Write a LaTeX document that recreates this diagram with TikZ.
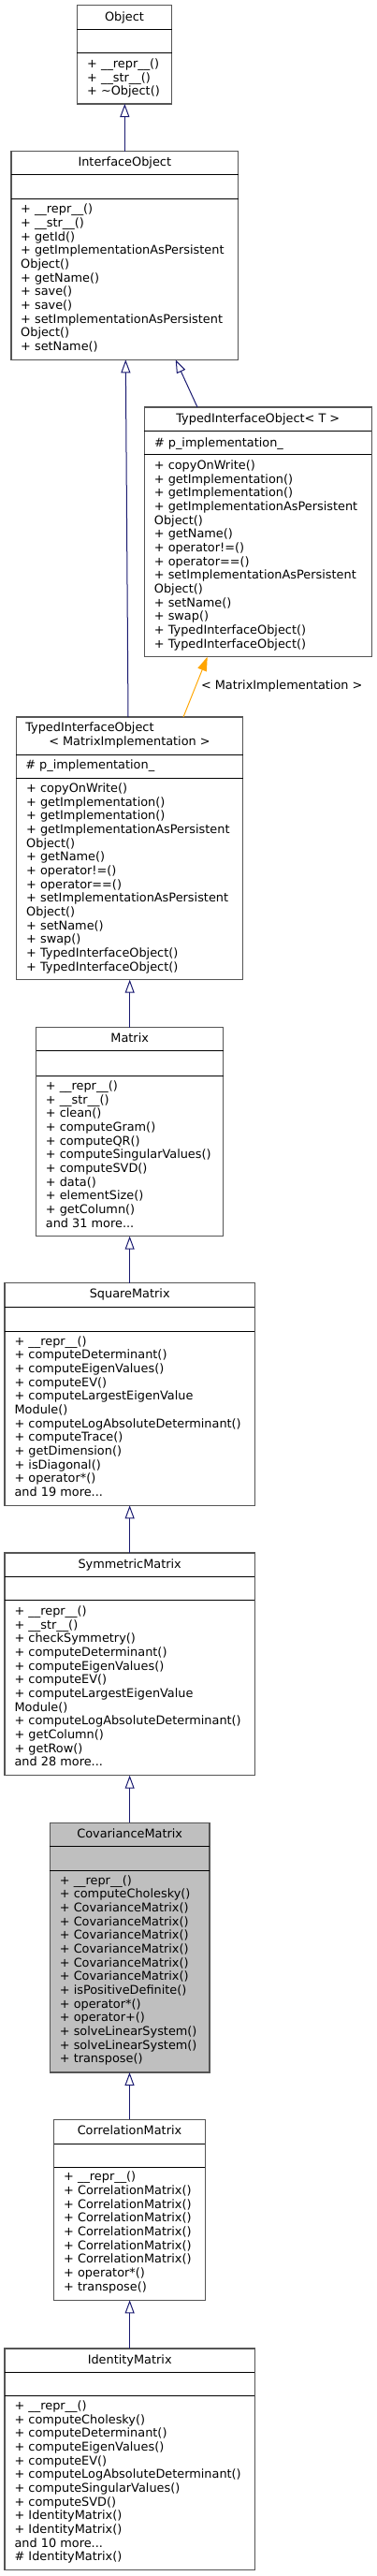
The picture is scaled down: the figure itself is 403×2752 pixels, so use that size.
\documentclass[tikz,border=0pt]{standalone}
\usepackage{fontspec}
\setmainfont{DejaVu Sans}
\usetikzlibrary{arrows.meta}
\definecolor{edgeblue}{HTML}{191970}
\definecolor{edgeorange}{HTML}{FFA500}
\definecolor{boxgray}{HTML}{555555}
\definecolor{mainfill}{HTML}{BFBFBF}
\newcommand\tdots{...}
\tikzset{
  cls/.style={draw=boxgray, line width=1.3pt, inner sep=0pt, outer sep=0pt, anchor=north west},
  divline/.style={draw=black, line width=1pt},
  txt/.style={inner sep=0pt, outer sep=0pt, anchor=base west, font=\fontsize{12.87}{14.67}\selectfont},
  ttl/.style={inner sep=0pt, outer sep=0pt, anchor=base, font=\fontsize{12.87}{14.67}\selectfont},
  inh/.style={draw=edgeblue, line width=1pt, -{Triangle[open, length=14pt, width=10pt, line width=1pt]}},
  tmpl/.style={draw=edgeorange, line width=1pt, -{Triangle[length=15pt, width=10pt]}},
}
\newcommand\classbox[8]{%
  \node[cls, fill=#8, minimum width={(#4-#2)*1pt}, minimum height={(#5-#3)*1pt}] (#1) at (#2,#3) {};
  \draw[divline] (#2,#6) -- (#4,#6);
  \draw[divline] (#2,#7) -- (#4,#7);
}
\newcommand\methodlist[4]{%
  \foreach \t [count=\i from 0] in {#4} {
    \node[txt] (#1-\i) at (#2, {#3+\i*14.67}) {\t};
  }
}
\begin{document}
\begin{tikzpicture}[x=1pt, y=-1pt]
\useasboundingbox (0,0) rectangle (403,2752);

% Object
\classbox{obj}{82.3}{5.7}{183.7}{111}{31.3}{56.7}{white}
\node[ttl] (obj-title) at (133,22) {Object};
\methodlist{obj}{93.2}{72.6}{+ \_\_repr\_\_(), + \_\_str\_\_(), + \textasciitilde Object()}

% InterfaceObject
\classbox{ifo}{12}{161.7}{254.7}{384.3}{186.7}{212.3}{white}
\node[ttl] (ifo-title) at (133.3,177.7) {InterfaceObject};
\methodlist{ifo}{22.2}{227.8}{+ \_\_repr\_\_(), + \_\_str\_\_(), + getId(), + getImplementationAsPersistent, Object(), + getName(), + save(), + save(), + setImplementationAsPersistent, Object(), + setName()}

% TypedInterfaceObject< T >
\classbox{tit}{154.3}{435}{397.3}{701.7}{460}{485.7}{white}
\node[ttl] (tit-title) at (275.8,451) {TypedInterfaceObject< T >};
\node[txt] (tit-attr) at (165,477.1) {\# p\_implementation\_};
\methodlist{tit}{164.9}{501.5}{+ copyOnWrite(), + getImplementation(), + getImplementation(), + getImplementationAsPersistent, Object(), + getName(), + operator!=(), + operator==(), + setImplementationAsPersistent, Object(), + setName(), + swap(), + TypedInterfaceObject(), + TypedInterfaceObject()}

% TypedInterfaceObject< MatrixImplementation >
\classbox{tmi}{17.3}{766}{259.7}{1046.7}{806}{831}{white}
\node[txt] (tmi-title1) at (27.3,781.5) {TypedInterfaceObject};
\node[ttl] (tmi-title2) at (138.5,796) {< MatrixImplementation >};
\node[txt] (tmi-attr) at (27.3,821.5) {\# p\_implementation\_};
\methodlist{tmi}{28.2}{846.5}{+ copyOnWrite(), + getImplementation(), + getImplementation(), + getImplementationAsPersistent, Object(), + getName(), + operator!=(), + operator==(), + setImplementationAsPersistent, Object(), + setName(), + swap(), + TypedInterfaceObject(), + TypedInterfaceObject()}

% Matrix
\classbox{mat}{38.7}{1097.7}{238.7}{1320.7}{1122.7}{1149.3}{white}
\node[ttl] (mat-title) at (138.7,1113.7) {Matrix};
\methodlist{mat}{48.9}{1164.5}{+ \_\_repr\_\_(), + \_\_str\_\_(), + clean(), + computeGram(), + computeQR(), + computeSingularValues(), + computeSVD(), + data(), + elementSize(), + getColumn(), and 31 more\tdots}

% SquareMatrix
\classbox{sqm}{5}{1370.7}{272.3}{1608.3}{1396}{1422}{white}
\node[ttl] (sqm-title) at (138.7,1386.9) {SquareMatrix};
\methodlist{sqm}{15.6}{1437.1}{+ \_\_repr\_\_(), + computeDeterminant(), + computeEigenValues(), + computeEV(), + computeLargestEigenValue, Module(), + computeLogAbsoluteDeterminant(), + computeTrace(), + getDimension(), + isDiagonal(), + operator*(), and 19 more\tdots}

% SymmetricMatrix
\classbox{sym}{5}{1659}{272.3}{1896.7}{1684.7}{1709.7}{white}
\node[ttl] (sym-title) at (138.7,1675.4) {SymmetricMatrix};
\methodlist{sym}{15.6}{1725.5}{+ \_\_repr\_\_(), + \_\_str\_\_(), + checkSymmetry(), + computeDeterminant(), + computeEigenValues(), + computeEV(), + computeLargestEigenValue, Module(), + computeLogAbsoluteDeterminant(), + getColumn(), + getRow(), and 28 more\tdots}

% CovarianceMatrix
\classbox{cov}{53.3}{1947.3}{224}{2214}{1972.3}{1998}{mainfill}
\node[ttl] (cov-title) at (138.7,1963.3) {CovarianceMatrix};
\methodlist{cov}{63.9}{2013.1}{+ \_\_repr\_\_(), + computeCholesky(), + CovarianceMatrix(), + CovarianceMatrix(), + CovarianceMatrix(), + CovarianceMatrix(), + CovarianceMatrix(), + CovarianceMatrix(), + isPositiveDefinite(), + operator*(), + operator+(), + solveLinearSystem(), + solveLinearSystem(), + transpose()}

% CorrelationMatrix
\classbox{cor}{57.7}{2264.3}{219.3}{2457.3}{2290}{2315}{white}
\node[ttl] (cor-title) at (138.5,2280.7) {CorrelationMatrix};
\methodlist{cor}{68.2}{2329.8}{+ \_\_repr\_\_(), + CorrelationMatrix(), + CorrelationMatrix(), + CorrelationMatrix(), + CorrelationMatrix(), + CorrelationMatrix(), + CorrelationMatrix(), + operator*(), + transpose()}

% IdentityMatrix
\classbox{idm}{5}{2509}{272.3}{2745.7}{2534}{2559.3}{white}
\node[ttl] (idm-title) at (138.7,2525) {IdentityMatrix};
\methodlist{idm}{15.6}{2574.5}{+ \_\_repr\_\_(), + computeCholesky(), + computeDeterminant(), + computeEigenValues(), + computeEV(), + computeLogAbsoluteDeterminant(), + computeSingularValues(), + computeSVD(), + IdentityMatrix(), + IdentityMatrix(), and 10 more\tdots, \# IdentityMatrix()}

% connectors
\draw[inh] (ifo.north) -- (ifo.north |- obj.south);
\draw[inh] ([xshift=56.7pt]tit.north west) -- ([xshift=175.7pt]ifo.south west);
\draw[inh] ([xshift=119.7pt]tmi.north west) -- ([xshift=122.3pt]ifo.south west);
\draw[tmpl] ([xshift=178.7pt]tmi.north west) -- ([xshift=67.4pt]tit.south west);
\node[txt] (tmpl-label) at (215,736) {< MatrixImplementation >};
\draw[inh] (mat.north) -- (mat.north |- tmi.south);
\draw[inh] (sqm.north) -- (sqm.north |- mat.south);
\draw[inh] (sym.north) -- (sym.north |- sqm.south);
\draw[inh] (cov.north) -- (cov.north |- sym.south);
\draw[inh] (cor.north) -- (cor.north |- cov.south);
\draw[inh] (idm.north) -- (idm.north |- cor.south);
\end{tikzpicture}
\end{document}
